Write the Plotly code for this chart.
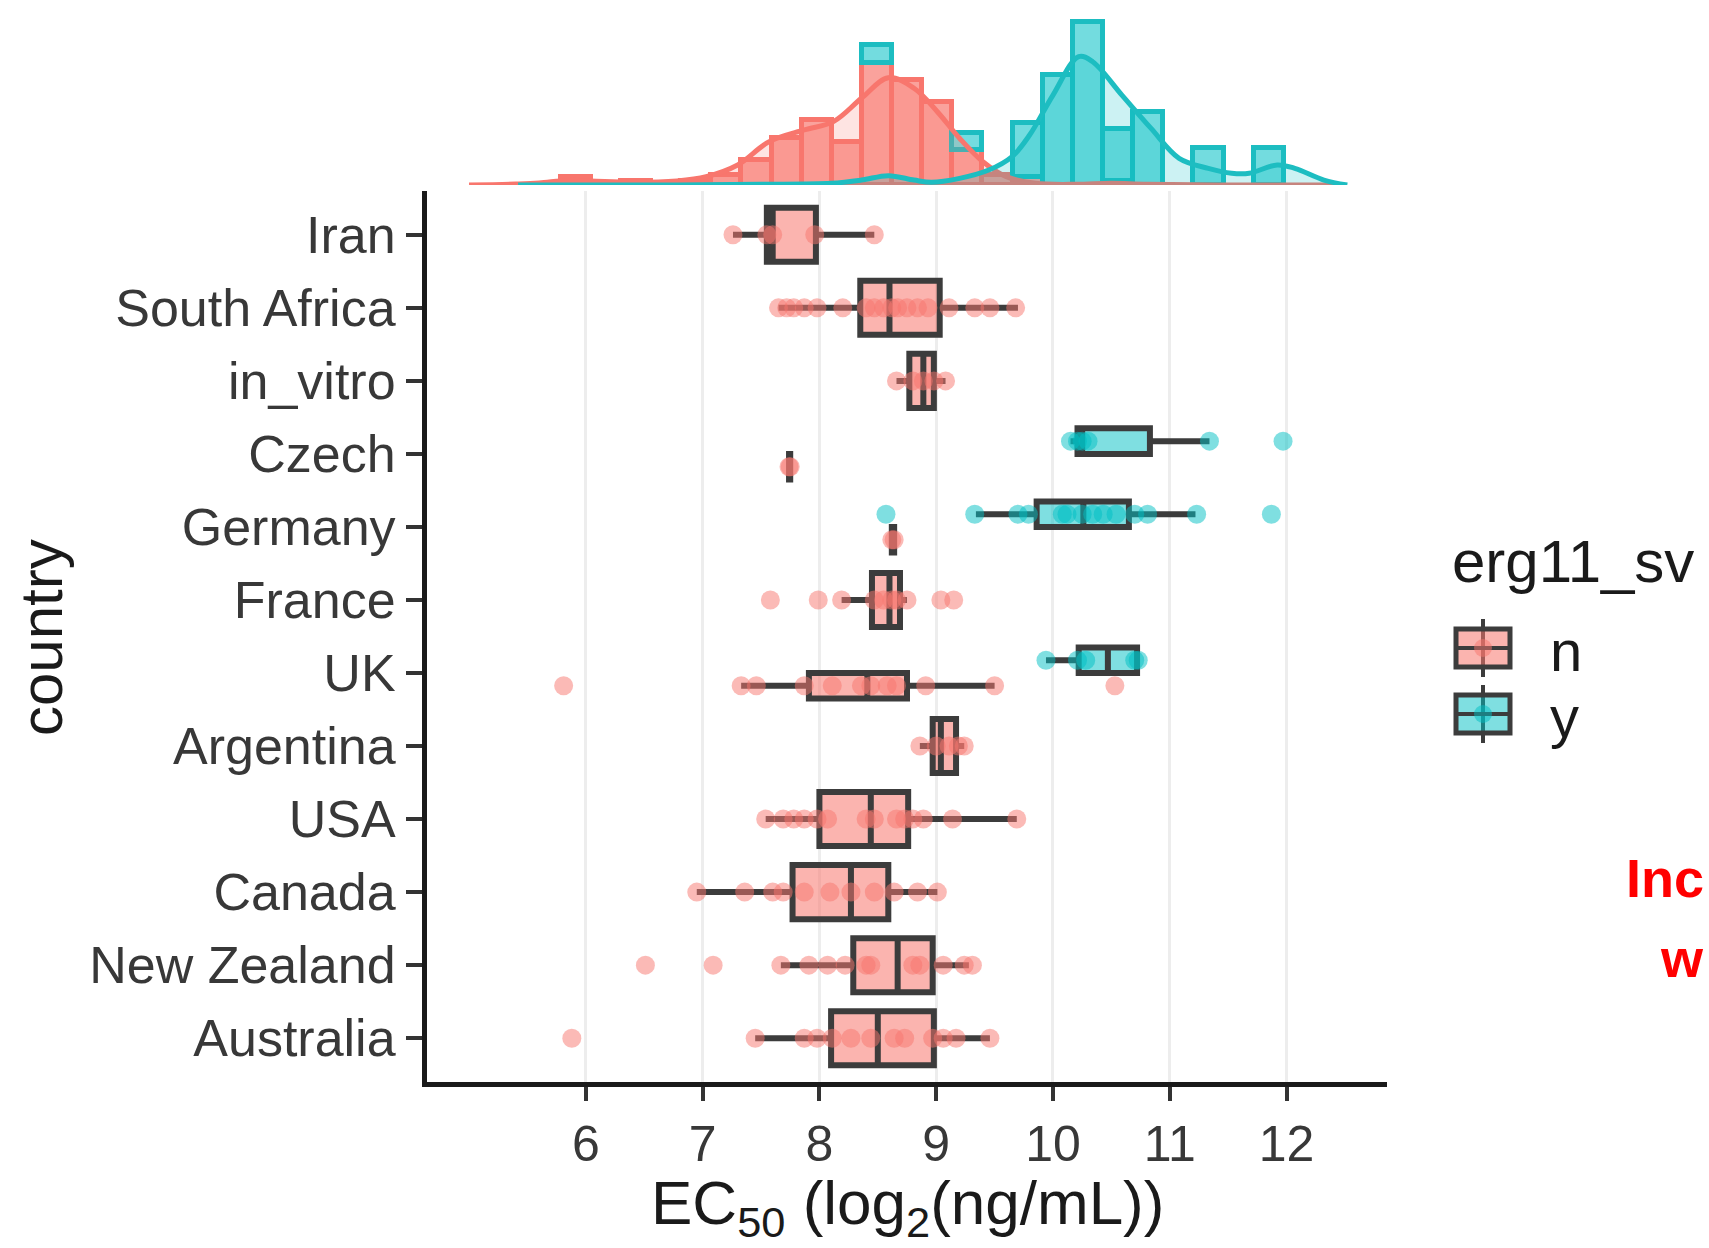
import plotly.graph_objects as go

# ---------------- data (EC50, log2 ng/mL) ----------------
countries = ["Iran", "South Africa", "in_vitro", "Czech", "Germany", "France",
             "UK", "Argentina", "USA", "Canada", "New Zealand", "Australia"]
x_ticks = [6, 7, 8, 9, 10, 11, 12]

iran_n = [7.26, 7.55, 7.60, 7.96, 8.47]
south_africa_n = [7.65, 7.72, 7.78, 7.87, 7.98, 8.20, 8.40, 8.47, 8.55, 8.62, 8.67,
                  8.75, 8.84, 8.93, 9.11, 9.33, 9.46, 9.68]
in_vitro_n = [8.66, 8.80, 8.89, 8.98, 9.08]
czech_n = [7.74, 7.75]
czech_y = [10.15, 10.21, 10.25, 10.30, 11.34, 11.97]
germany_n = [8.62, 8.64]
germany_y = [8.57, 9.33, 9.70, 9.79, 10.08, 10.12, 10.25, 10.34, 10.43, 10.54,
             10.70, 10.81, 11.23, 11.87]
france_n = [7.58, 7.99, 8.19, 8.47, 8.55, 8.62, 8.66, 8.75, 9.04, 9.15]
uk_n = [5.81, 7.33, 7.46, 7.87, 8.11, 8.36, 8.44, 8.58, 8.66, 8.91, 9.50, 10.53]
uk_y = [9.94, 10.21, 10.28, 10.70, 10.73]
argentina_n = [8.86, 9.00, 9.11, 9.19, 9.24]
usa_n = [7.54, 7.69, 7.78, 7.87, 7.98, 8.07, 8.40, 8.47, 8.66, 8.73, 8.80, 8.89,
         9.14, 9.69]
canada_n = [6.95, 7.36, 7.60, 7.69, 7.87, 8.09, 8.27, 8.47, 8.64, 8.84, 9.01]
new_zealand_n = [6.51, 7.09, 7.67, 7.91, 8.07, 8.22, 8.40, 8.44, 8.80, 8.86, 9.06,
                 9.24, 9.31]
australia_n = [5.88, 7.45, 7.87, 7.98, 8.11, 8.27, 8.44, 8.64, 8.73, 8.97, 9.06,
               9.17, 9.46]

# box statistics (per country / erg11_sv group)
box_country = ["Iran", "South Africa", "in_vitro", "Czech", "Germany", "France",
               "UK", "Argentina", "USA", "Canada", "New Zealand", "Australia",
               "Czech", "Germany", "UK"]
box_group = ["n"] * 12 + ["y"] * 3
box_lower = [7.26, 7.65, 8.66, 7.74, 8.62, 8.19, 7.33, 8.86, 7.54, 6.95, 7.67, 7.45,
             10.15, 9.34, 9.94]
box_q1 = [7.55, 8.35, 8.77, 7.74, 8.62, 8.45, 7.91, 8.97, 8.00, 7.77, 8.29, 8.10,
          10.21, 9.86, 10.22]
box_median = [7.60, 8.60, 8.89, 7.74, 8.63, 8.60, 8.41, 9.04, 8.44, 8.27, 8.67, 8.50,
              10.25, 10.26, 10.47]
box_q3 = [7.97, 9.03, 8.98, 7.75, 8.64, 8.69, 8.75, 9.17, 8.76, 8.59, 8.97, 8.98,
          10.83, 10.65, 10.72]
box_upper = [8.47, 9.70, 9.08, 7.75, 8.64, 8.75, 9.50, 9.24, 9.69, 9.01, 9.28, 9.46,
             11.34, 11.22, 10.72]

# marginal histogram (density scaled) and density curves
hist_bin_center = [5.913, 6.171, 6.429, 6.687, 6.945, 7.203, 7.461, 7.719, 7.977,
                   8.235, 8.493, 8.751, 9.009, 9.267, 9.525, 9.783, 10.041, 10.299,
                   10.557, 10.815, 11.073, 11.331, 11.589, 11.847]
hist_bin_width = 0.258
hist_n = [0.049, None, 0.024, None, 0.024, 0.059, 0.147, 0.275, 0.382, 0.255, 0.716,
          0.618, 0.490, 0.206, 0.059, 0.049, None, None, 0.024, None, None, None,
          None, None]
hist_y = [None, None, None, None, None, None, None, None, None, None, 0.108, None,
          None, 0.098, None, 0.314, 0.647, 0.961, 0.304, 0.431, None, 0.216, None,
          0.216]

dens_n_x = [5.0, 5.4, 5.6, 5.84, 6.04, 6.39, 6.78, 7.03, 7.30, 7.57, 7.87, 8.12, 8.36,
            8.59, 8.81, 9.01, 9.20, 9.40, 9.60, 9.85, 10.2, 10.5, 10.8, 11.5, 12.5]
dens_n = [0, 0.006, 0.012, 0.027, 0.024, 0.016, 0.024, 0.049, 0.118, 0.255, 0.324,
          0.373, 0.510, 0.631, 0.569, 0.431, 0.275, 0.137, 0.049, 0.010, 0.004, 0.010,
          0.004, 0, 0]
dens_y_x = [5.42, 6.5, 7.5, 8.1, 8.36, 8.59, 8.81, 8.96, 9.20, 9.45, 9.65, 9.80, 10.0,
            10.22, 10.34, 10.59, 10.84, 11.08, 11.33, 11.53, 11.68, 11.92, 12.07,
            12.32, 12.52]
dens_y = [0, 0, 0.004, 0.010, 0.029, 0.055, 0.029, 0.016, 0.039, 0.088, 0.167, 0.294,
          0.529, 0.755, 0.725, 0.529, 0.333, 0.157, 0.098, 0.069, 0.069, 0.118, 0.098,
          0.029, 0]

# ---------------- styling ----------------
W, H = 1709, 1248
RED, TEAL = "#F8766D", "#00BFC4"
RED_FILL, TEAL_FILL = "rgba(248,118,109,0.55)", "rgba(0,191,196,0.5)"
EDGE = "#3C3C3C"
TICKC = "#383838"
FONT = "Liberation Sans, Arial, sans-serif"

def px(xp):
    return xp / W

def py(yp):
    return 1 - yp / H

points_n = {"Iran": iran_n, "South Africa": south_africa_n, "in_vitro": in_vitro_n,
            "Czech": czech_n, "Germany": germany_n, "France": france_n, "UK": uk_n,
            "Argentina": argentina_n, "USA": usa_n, "Canada": canada_n,
            "New Zealand": new_zealand_n, "Australia": australia_n}
points_y = {"Czech": czech_y, "Germany": germany_y, "UK": uk_y}

row = {c: len(countries) - 1 - i for i, c in enumerate(countries)}
DODGE = 0.175
both = set(points_y.keys())

def pos(country, group):
    base = row[country]
    if country in both:
        return base + (DODGE if group == "y" else -DODGE)
    return base

fig = go.Figure()

# boxes
def add_boxes(sel, fill, width):
    idx = [i for i in range(len(box_country)) if sel(i)]
    fig.add_trace(go.Box(
        orientation="h",
        y=[pos(box_country[i], box_group[i]) for i in idx],
        q1=[box_q1[i] for i in idx], median=[box_median[i] for i in idx],
        q3=[box_q3[i] for i in idx], lowerfence=[box_lower[i] for i in idx],
        upperfence=[box_upper[i] for i in idx],
        width=width, whiskerwidth=0, boxpoints=False,
        fillcolor=fill, line=dict(color=EDGE, width=6),
        showlegend=False, hoverinfo="skip", xaxis="x", yaxis="y"))

add_boxes(lambda i: box_group[i] == "n" and box_country[i] not in both, RED_FILL, 0.74)
add_boxes(lambda i: box_group[i] == "n" and box_country[i] in both, RED_FILL, 0.35)
add_boxes(lambda i: box_group[i] == "y", TEAL_FILL, 0.35)

# points
for pts, grp, col in [(points_n, "n", RED), (points_y, "y", TEAL)]:
    xs, ys = [], []
    for c, vals in pts.items():
        xs += vals
        ys += [pos(c, grp)] * len(vals)
    fig.add_trace(go.Scatter(x=xs, y=ys, mode="markers",
                             marker=dict(size=19, color=col, opacity=0.5, line=dict(width=0)),
                             showlegend=False, hoverinfo="skip", xaxis="x", yaxis="y"))

# marginal histogram
fig.add_trace(go.Bar(x=hist_bin_center, y=hist_n, width=hist_bin_width,
                     marker=dict(color="rgba(248,118,109,0.68)", line=dict(color=RED, width=5)),
                     showlegend=False, xaxis="x2", yaxis="y2"))
fig.add_trace(go.Bar(x=hist_bin_center, y=hist_y, width=hist_bin_width,
                     marker=dict(color="rgba(0,191,196,0.55)", line=dict(color="#1DBDC1", width=5)),
                     showlegend=False, xaxis="x2", yaxis="y2"))
fig.add_trace(go.Scatter(x=dens_n_x, y=dens_n, mode="lines", line=dict(color=RED, width=5, shape="spline"),
                         fill="tozeroy", fillcolor="rgba(248,118,109,0.2)",
                         showlegend=False, xaxis="x2", yaxis="y2"))
fig.add_trace(go.Scatter(x=dens_y_x, y=dens_y, mode="lines", line=dict(color="#1DBDC1", width=5, shape="spline"),
                         fill="tozeroy", fillcolor="rgba(0,191,196,0.2)",
                         showlegend=False, xaxis="x2", yaxis="y2"))

XDOM = [px(427), px(1387)]
fig.update_layout(
    width=W, height=H, autosize=False,
    margin=dict(l=0, r=0, t=0, b=0),
    paper_bgcolor="white", plot_bgcolor="white",
    barmode="stack", bargap=0, boxmode="overlay",
    font=dict(family=FONT, color="#1a1a1a"),
    xaxis=dict(domain=XDOM, range=[4.64, 12.86], tickvals=x_ticks,
               ticktext=[str(t) for t in x_ticks], ticks="outside", ticklen=14,
               tickwidth=4, tickcolor="#333333", showline=True, linewidth=5,
               linecolor="#1a1a1a", showgrid=True, gridcolor="#EDEDED", gridwidth=3,
               zeroline=False, tickfont=dict(size=50, color=TICKC), anchor="y"),
    yaxis=dict(domain=[py(1082), py(191)], range=[-0.6, 11.6],
               tickvals=[row[c] for c in countries], ticktext=countries,
               ticks="outside", ticklen=16, tickwidth=4, tickcolor="#333333",
               showline=True, linewidth=5, linecolor="#1a1a1a", showgrid=False,
               zeroline=False, tickfont=dict(size=52, color=TICKC), anchor="x"),
    xaxis2=dict(domain=XDOM, matches="x", anchor="y2", visible=False, showgrid=False),
    yaxis2=dict(domain=[py(185), py(15)], range=[0, 1.0], anchor="x2", visible=False,
                showgrid=False),
)

# axis titles
fig.add_annotation(x=(XDOM[0] + XDOM[1]) / 2, y=py(1207), xref="paper", yref="paper",
                   text="EC<sub>50</sub> (log<sub>2</sub>(ng/mL))", showarrow=False,
                   font=dict(size=62, color="#1a1a1a"), xanchor="center", yanchor="middle")
fig.add_annotation(x=px(41), y=py(638), xref="paper", yref="paper", text="country",
                   textangle=-90, showarrow=False, font=dict(size=60, color="#1a1a1a"),
                   xanchor="center", yanchor="middle")

# legend (drawn manually to match ggplot key size)
fig.add_annotation(x=px(1450), y=py(561), xref="paper", yref="paper", text="erg11_sv",
                   showarrow=False, font=dict(size=60, color="#1a1a1a"),
                   xanchor="left", yanchor="middle")
for lab, fill, ptc, yc in [("n", RED_FILL, "rgba(248,118,109,0.5)", 648),
                            ("y", TEAL_FILL, "rgba(0,191,196,0.5)", 714)]:
    x0, x1 = 1456, 1510
    xm = (x0 + x1) / 2
    fig.add_shape(type="line", xref="paper", yref="paper", x0=px(xm), x1=px(xm),
                  y0=py(yc - 29), y1=py(yc + 29), line=dict(color=EDGE, width=4))
    fig.add_shape(type="rect", xref="paper", yref="paper", x0=px(x0), x1=px(x1),
                  y0=py(yc - 19), y1=py(yc + 19), fillcolor=fill,
                  line=dict(color=EDGE, width=5))
    fig.add_shape(type="line", xref="paper", yref="paper", x0=px(x0), x1=px(x1),
                  y0=py(yc), y1=py(yc), line=dict(color=EDGE, width=4))
    fig.add_shape(type="circle", xref="paper", yref="paper", x0=px(xm - 9), x1=px(xm + 9),
                  y0=py(yc - 9), y1=py(yc + 9), fillcolor=ptc, line=dict(width=0))
    fig.add_annotation(x=px(1548), y=py(yc + 2), xref="paper", yref="paper", text=lab,
                       showarrow=False, font=dict(size=58, color="#1a1a1a"),
                       xanchor="left", yanchor="middle")

# red text at the right edge (kept fully inside the page)
fig.add_annotation(x=px(1706), y=py(878), xref="paper", yref="paper", text="<b>Inc</b>",
                   showarrow=False, font=dict(size=54, color="#FF0000"),
                   xanchor="right", yanchor="middle")
fig.add_annotation(x=px(1706), y=py(958), xref="paper", yref="paper", text="<b>w</b>",
                   showarrow=False, font=dict(size=54, color="#FF0000"),
                   xanchor="right", yanchor="middle")

fig.write_html("out.html")
